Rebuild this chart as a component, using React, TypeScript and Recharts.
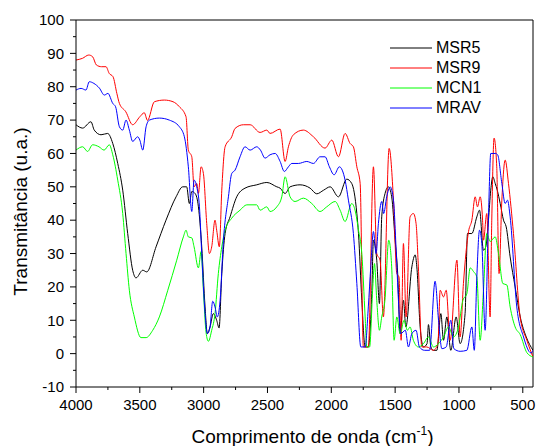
import { Legend, Line, LineChart, ReferenceLine, XAxis, YAxis } from "recharts";

// wavenumbers (cm-1) and transmittance
const msr5Wn = [
  4000, 3948, 3883, 3857, 3804, 3752, 3712, 3673, 3634, 3595, 3556, 3530, 3477, 3446, 3373, 3295, 3216, 3164, 3133, 3112,
  3093, 3067, 3041, 3015, 2989, 2971, 2950, 2924, 2898, 2879, 2858, 2832, 2793, 2741, 2676, 2584, 2505, 2427, 2401, 2362,
  2323, 2245, 2166, 2114, 2060, 2009, 1944, 1879, 1840, 1800, 1787, 1761, 1735, 1710, 1683, 1670, 1644, 1623, 1605, 1579,
  1553, 1527, 1500, 1480, 1461, 1435, 1416, 1369, 1343, 1330, 1304, 1278, 1250, 1239, 1220, 1200, 1173, 1142, 1121, 1095,
  1064, 1022, 991, 952, 933, 899, 860, 839, 808, 790, 769, 751, 735, 716, 700, 677, 651, 630, 599, 560,
  520, 473, 420,
];
const msr5T = [
  68.6, 67.6, 69.5, 67, 65.6, 66, 63, 57, 49, 36, 25, 22.7, 25, 24.5, 32, 40, 47, 50, 50, 45,
  48.6, 48, 44, 32, 14, 6, 8, 12, 10, 7.7, 24, 36, 41, 47, 49.6, 50.6, 51.3, 50, 49.6, 48,
  50, 50.6, 49.6, 47.9, 49, 50, 47, 52.3, 51, 42, 36, 16, 2, 2, 18, 34, 28, 15, 41, 48,
  50, 47, 34, 24, 6, 16, 8, 26, 29.6, 26, 8, 2, 3, 8.7, 2, 1, 1, 12, 4, 11,
  1, 11, 3, 12, 36, 36, 41, 43, 31, 32, 40, 49, 53, 51, 49, 45, 40, 38, 29, 20,
  11, 5, 1,
];

const msr9Wn = [
  4000, 3950, 3900, 3870, 3840, 3800, 3765, 3740, 3710, 3680, 3660, 3610, 3556, 3500, 3465, 3440, 3386, 3308, 3240, 3190,
  3138, 3120, 3093, 3075, 3054, 3041, 3020, 3002, 2976, 2955, 2937, 2911, 2898, 2877, 2858, 2832, 2780, 2754, 2689, 2636,
  2558, 2505, 2480, 2401, 2362, 2336, 2297, 2219, 2140, 2049, 1996, 1944, 1892, 1853, 1827, 1800, 1774, 1749, 1710, 1670,
  1644, 1618, 1592, 1547, 1513, 1487, 1470, 1453, 1435, 1414, 1383, 1357, 1336, 1318, 1291, 1252, 1200, 1165, 1147, 1121,
  1100, 1069, 1016, 991, 965, 925, 899, 873, 855, 834, 815, 808, 782, 756, 743, 725, 704, 686, 664, 638,
  612, 573, 521, 468, 420,
];
const msr9T = [
  88, 88.5, 89.5, 89, 86.5, 86, 86, 84, 83, 78, 75, 72.5, 68.6, 71, 72.2, 69.9, 75.5, 76, 75.5, 74,
  71, 61, 59, 50, 51, 48, 56, 54, 39, 30, 32, 40, 37, 32, 49, 62, 65, 67.5, 68.6, 68.6,
  66.3, 67, 66, 67.3, 57.6, 62, 65.6, 67, 65, 61.6, 64, 59, 66, 63, 62, 56, 51, 2, 2, 56,
  30, 28, 11, 61.5, 46, 24, 23, 4, 33, 11, 41, 42, 39, 26, 2, 2, 1, 3, 19, 17,
  19, 4, 28, 5, 21, 36.6, 40, 47, 44, 47, 40, 34, 42, 11, 40, 64.6, 56, 24, 46, 58,
  51, 36, 11, 4, -1,
];

const mcn1Wn = [
  4000, 3948, 3909, 3870, 3820, 3780, 3739, 3712, 3673, 3634, 3608, 3582, 3543, 3491, 3451, 3399, 3347, 3281, 3211, 3159,
  3138, 3120, 3093, 3075, 3041, 3020, 3002, 2981, 2963, 2937, 2911, 2885, 2858, 2832, 2780, 2715, 2662, 2584, 2558, 2505,
  2480, 2427, 2388, 2362, 2323, 2284, 2219, 2153, 2088, 2036, 1970, 1931, 1892, 1840, 1814, 1787, 1761, 1735, 1722, 1700,
  1675, 1662, 1644, 1623, 1605, 1580, 1550, 1527, 1508, 1487, 1461, 1430, 1404, 1383, 1357, 1318, 1278, 1239, 1200, 1160,
  1121, 1082, 1043, 1004, 969, 938, 912, 886, 860, 834, 808, 782, 756, 716, 690, 656, 625, 599, 560, 520,
  468, 420,
];
const mcn1T = [
  61, 62, 60.6, 62.6, 62, 61, 62.6, 59.6, 52, 42, 30, 19, 11, 4.8, 4.8, 7, 11, 19, 28, 35,
  37, 35, 34.7, 32, 25.7, 30.6, 19, 6.3, 3.7, 7, 12, 24, 32, 37, 40.6, 43, 44.6, 44.6, 43, 44,
  42.6, 44, 47, 53, 47, 45.6, 46.6, 45, 42.6, 44, 45.6, 43, 39.6, 45, 43, 37, 30, 11, 2, 2,
  20, 27, 16, 7, 11, 16, 34, 26, 4, 11, 6, 10, 7, 8, 4, 2, 3, 5, 2, 3,
  5, 8, 5, 8, 16, 18, 25.7, 24.6, 23, 4, 19, 36, 33.6, 35, 30, 21, 20.6, 14, 8, 5.7,
  0.3, -1,
];

const mravWn = [
  4000, 3960, 3922, 3896, 3860, 3817, 3778, 3750, 3712, 3690, 3660, 3634, 3608, 3582, 3556, 3517, 3500, 3477, 3451, 3425,
  3347, 3269, 3190, 3151, 3120, 3093, 3075, 3054, 3033, 3015, 2989, 2971, 2950, 2929, 2911, 2893, 2871, 2845, 2806, 2780,
  2754, 2715, 2676, 2636, 2584, 2555, 2519, 2480, 2440, 2401, 2368, 2336, 2310, 2258, 2192, 2140, 2088, 2049, 2015, 1978,
  1937, 1892, 1866, 1827, 1800, 1769, 1735, 1710, 1691, 1670, 1649, 1631, 1605, 1590, 1566, 1539, 1513, 1492, 1474, 1456,
  1420, 1396, 1369, 1336, 1310, 1270, 1230, 1187, 1160, 1134, 1100, 1064, 1040, 991, 938, 899, 880, 860, 839, 821,
  795, 769, 751, 716, 697, 664, 638, 620, 599, 547, 494, 436, 420,
];
const mravT = [
  79, 79.5, 79, 81.5, 81, 79.6, 77.5, 78, 75, 74, 68, 67, 70, 67, 63.6, 65, 64, 61, 68, 70,
  70.6, 70, 68, 65, 56, 42.6, 52, 50, 44, 30, 12, 6, 8, 15.7, 14, 11, 16, 34, 47, 54,
  55, 59, 62, 61, 62, 61, 58.6, 59.6, 60, 57.6, 54.6, 56, 57, 57, 57.6, 57, 59, 59, 56, 53.6,
  56, 52, 46, 36, 21, 2, 2, 14, 26, 36.6, 30, 39, 45.6, 42, 47, 50, 46, 31, 16, 6,
  7, 2, 6, 7, 2, 1, 1, 21.7, 10, 1.5, 2, 10, 1.5, 0.7, 1, 8, 1, 23, 37, 33,
  7, 41, 60, 60, 59.6, 51, 45, 46, 41, 14, 5, 0.2, 1,
];

const xTicks = [4000, 3750, 3500, 3250, 3000, 2750, 2500, 2250, 2000, 1750, 1500, 1250, 1000, 750, 500];
const yTicks = [-10, -5, 0, 5, 10, 15, 20, 25, 30, 35, 40, 45, 50, 55, 60, 65, 70, 75, 80, 85, 90, 95, 100];

const FONT = "'Liberation Sans', Arial, sans-serif";

const toPoints = (wn: number[], t: number[]) =>
  wn.slice(0, Math.min(wn.length, t.length)).map((w, i) => ({ wn: w, t: t[i] }));

const series = [
  { name: "MSR5", color: "#000000", data: toPoints(msr5Wn, msr5T) },
  { name: "MSR9", color: "#ff0000", data: toPoints(msr9Wn, msr9T) },
  { name: "MCN1", color: "#00ff00", data: toPoints(mcn1Wn, mcn1T) },
  { name: "MRAV", color: "#0000ff", data: toPoints(mravWn, mravT) },
];

const YTick = ({ x, y, payload }: any) => {
  const v = payload.value as number;
  const major = v % 10 === 0;
  return (
    <g>
      <line x1={x - (major ? 6 : 3)} x2={x} y1={y} y2={y} stroke="#000" />
      {major && (
        <text x={x - 12} y={y} dy="0.35em" textAnchor="end" fontSize={15} fontFamily={FONT} fill="#000">
          {v}
        </text>
      )}
    </g>
  );
};

const XTick = ({ x, y, payload }: any) => {
  const v = payload.value as number;
  const major = v % 500 === 0;
  return (
    <g>
      <line x1={x} x2={x} y1={y} y2={y + (major ? 6 : 3)} stroke="#000" />
      {major && (
        <text x={x} y={y + 23} textAnchor="middle" fontSize={15} fontFamily={FONT} fill="#000">
          {v}
        </text>
      )}
    </g>
  );
};

const YTitle = ({ viewBox }: any) => {
  const cx = viewBox.x + 20;
  const cy = viewBox.y + viewBox.height / 2 + 8;
  return (
    <text
      x={0}
      y={0}
      transform={`translate(${cx},${cy}) rotate(-90)`}
      dy="0.35em"
      textAnchor="middle"
      fontSize={19}
      fontFamily={FONT}
      fill="#000"
    >
      Transmitância (u.a.)
    </text>
  );
};

const XTitle = ({ viewBox }: any) => (
  <text
    x={viewBox.x + viewBox.width / 2 + 8}
    y={viewBox.y + 56}
    textAnchor="middle"
    fontSize={19}
    fontFamily={FONT}
    fill="#000"
  >
    Comprimento de onda (cm
    <tspan fontSize={12} dy={-8}>
      -1
    </tspan>
    <tspan dy={8}>)</tspan>
  </text>
);

// legend keeps the series order (MSR5, MSR9, MCN1, MRAV)
const renderLegend = () => (
  <div style={{ fontFamily: FONT, fontSize: 16, lineHeight: "20px" }}>
    {series.map((s) => (
      <div key={s.name} style={{ display: "flex", alignItems: "center", height: 20 }}>
        <svg width={46} height={20} style={{ display: "block" }}>
          <line x1={0} x2={42} y1={10} y2={10} stroke={s.color} strokeWidth={1} />
        </svg>
        <span>{s.name}</span>
      </div>
    ))}
  </div>
);

export default function App() {
  return (
    <div>
      <style>{"body{margin:0}"}</style>
      <LineChart width={536} height={446} margin={{ top: 20, right: 3, bottom: 0, left: 0 }}>
        <XAxis
          dataKey="wn"
          type="number"
          domain={[420, 4000]}
          reversed
          ticks={xTicks}
          interval={0}
          height={59}
          tickSize={0}
          tickMargin={0}
          tick={<XTick />}
          tickLine={false}
          axisLine={{ stroke: "#000" }}
          allowDataOverflow
          label={<XTitle />}
        />
        <YAxis
          type="number"
          domain={[-10, 100]}
          ticks={yTicks}
          interval={0}
          width={76}
          tickSize={0}
          tickMargin={0}
          tick={<YTick />}
          tickLine={false}
          axisLine={{ stroke: "#000" }}
          allowDataOverflow
          label={<YTitle />}
        />
        <ReferenceLine y={100} stroke="#000" ifOverflow="visible" />
        <ReferenceLine x={420} stroke="#000" ifOverflow="visible" />
        {series.map((s) => (
          <Line
            key={s.name}
            data={s.data}
            dataKey="t"
            name={s.name}
            type="monotone"
            stroke={s.color}
            strokeWidth={1}
            dot={false}
            activeDot={false}
            isAnimationActive={false}
          />
        ))}
        <Legend
          layout="vertical"
          align="center"
          verticalAlign="middle"
          wrapperStyle={{ top: 38, left: 390, width: 140, height: "auto" }}
          content={renderLegend}
        />
      </LineChart>
    </div>
  );
}
